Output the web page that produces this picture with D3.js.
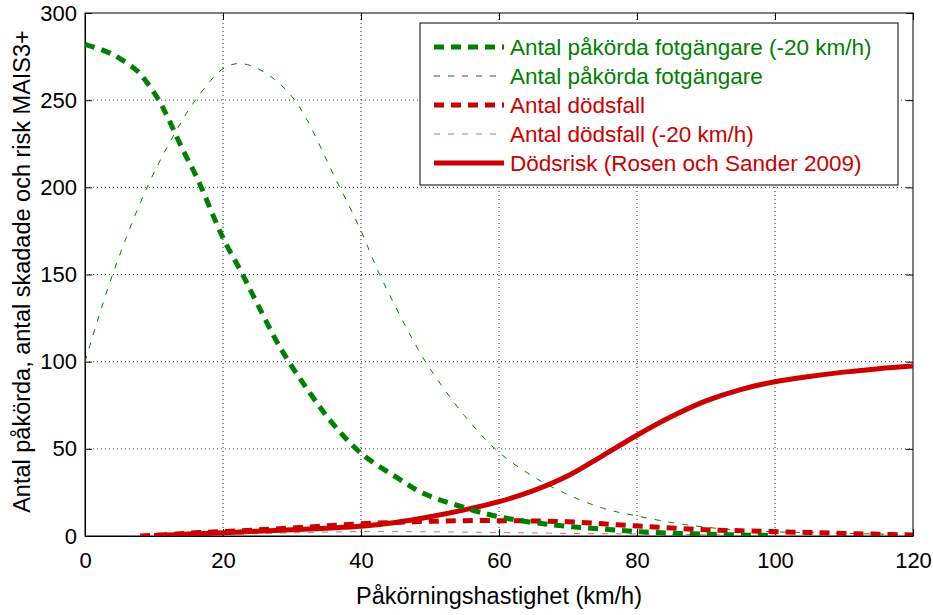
<!DOCTYPE html>
<html>
<head>
<meta charset="utf-8">
<script src="https://cdn.jsdelivr.net/npm/d3@7"></script>
<style>
  body { margin: 0; background: #fff; }
  svg text { font-family: "Liberation Sans", Arial, sans-serif; }
</style>
</head>
<body>
<svg id="chart"></svg>
<script>
// data
const xTicks = [0, 20, 40, 60, 80, 100, 120];
const yTicks = [0, 50, 100, 150, 200, 250, 300];

const speedFot20 = [0, 3, 5, 7.5, 9, 10.7, 12, 14, 16.4, 20, 22.7, 25, 28.3, 32.6, 36, 40, 45, 49, 54, 60, 68, 75, 81, 90, 100];
const valueFot20 = [282, 278, 274, 267, 260, 250, 240, 223, 204, 171, 151, 133, 108, 82, 64, 47.5, 34, 24.5, 17.5, 11, 6.3, 4, 2.3, 1, 0.3];

const speedFot = [0, 4, 9, 13.3, 16, 20, 22.5, 26, 30.4, 36.3, 40, 42.7, 48, 50, 55, 60, 65, 69, 75, 80, 87, 96, 106, 120];
const valueFot = [100, 150, 200, 233, 250, 268, 271, 266, 250, 205, 175, 150, 109, 96, 69, 48, 34, 25.5, 16, 11.5, 6.5, 3, 1.9, 0.7];

const speedDod = [8, 12, 16, 20, 25, 30, 35, 40, 45, 50, 55, 60, 65, 70, 75, 80, 85, 90, 95, 100, 105, 110, 115, 120];
const valueDod = [0, 0.8, 1.8, 2.5, 3.5, 4.6, 5.8, 7, 7.8, 8.4, 8.8, 8.8, 8.6, 8.2, 7, 5.7, 4.6, 3.6, 3, 2.5, 2, 1.5, 1, 0.6];

const speedDod20 = [10, 20, 30, 40, 50, 60, 70, 80, 90, 100, 110, 120];
const valueDod20 = [0.2, 0.9, 1.8, 2.5, 2.4, 2, 1.5, 1.1, 0.7, 0.4, 0.2, 0.1];

const speedRisk = [10, 15, 20, 25, 30, 35, 40, 45, 50, 55, 60, 65, 70, 75, 80, 85, 90, 95, 100, 105, 110, 115, 120];
const valueRisk = [0.3, 1.1, 1.9, 2.7, 3.6, 4.5, 5.6, 7.8, 11, 15, 19.7, 26, 34.5, 46, 57.8, 68.5, 77.5, 84, 88.5, 91.5, 94, 96, 97.5];

const green = "#008000", red = "#cc0000";

const series = [
  { name: "Antal påkörda fotgängare (-20 km/h)", x: speedFot20, y: valueFot20, color: green, width: 5, dash: "10,7" },
  { name: "Antal påkörda fotgängare", x: speedFot, y: valueFot, color: green, width: 1, dash: "6,8" },
  { name: "Antal dödsfall", x: speedDod, y: valueDod, color: red, width: 5, dash: "10,7" },
  { name: "Antal dödsfall (-20 km/h)", x: speedDod20, y: valueDod20, color: "#e06666", width: 1, dash: "6,8" },
  { name: "Dödsrisk (Rosen och Sander 2009)", x: speedRisk, y: valueRisk, color: red, width: 5, dash: null }
];

const wtot = 933, htot = 615;
const margin = { top: 13, right: 20, bottom: 79, left: 85 };

const xScale = d3.scaleLinear([0, 120], [margin.left, wtot - margin.right]);
const yScale = d3.scaleLinear([0, 300], [htot - margin.bottom, margin.top]);

const svg = d3.select("#chart")
  .attr("width", wtot)
  .attr("height", htot);

// grid
svg.append("g")
  .selectAll("line")
  .data(xTicks.slice(1, -1))
  .join("line")
  .attr("x1", d => xScale(d)).attr("x2", d => xScale(d))
  .attr("y1", yScale(0)).attr("y2", yScale(300))
  .attr("stroke", "#222").attr("stroke-dasharray", "1,3");

svg.append("g")
  .selectAll("line")
  .data(yTicks.slice(1, -1))
  .join("line")
  .attr("y1", d => yScale(d)).attr("y2", d => yScale(d))
  .attr("x1", xScale(0)).attr("x2", xScale(120))
  .attr("stroke", "#444").attr("stroke-dasharray", "1,3");

// axes (ticks inside, MATLAB style)
svg.append("g")
  .attr("transform", `translate(0,${yScale(0)})`)
  .call(d3.axisBottom(xScale).tickValues(xTicks).tickSizeInner(-7).tickSizeOuter(0).tickPadding(16))
  .call(g => g.selectAll("text").attr("font-size", 22).attr("fill", "#000"));

svg.append("g")
  .attr("transform", `translate(${xScale(0)},0)`)
  .call(d3.axisLeft(yScale).tickValues(yTicks).tickSizeInner(-7).tickSizeOuter(0).tickPadding(8))
  .call(g => g.selectAll("text").attr("font-size", 22).attr("fill", "#000"));

// top/right ticks
svg.append("g")
  .attr("transform", `translate(0,${yScale(300)})`)
  .call(d3.axisTop(xScale).tickValues(xTicks).tickSizeInner(-7).tickSizeOuter(0).tickFormat(""))
  .call(g => g.select(".domain").remove());
svg.append("g")
  .attr("transform", `translate(${xScale(120)},0)`)
  .call(d3.axisRight(yScale).tickValues(yTicks).tickSizeInner(-7).tickSizeOuter(0).tickFormat(""))
  .call(g => g.select(".domain").remove());

svg.append("rect")
  .attr("x", xScale(0)).attr("y", yScale(300))
  .attr("width", xScale(120) - xScale(0)).attr("height", yScale(0) - yScale(300))
  .attr("fill", "none").attr("stroke", "#000");

// axis titles
svg.append("text")
  .attr("x", (xScale(0) + xScale(120)) / 2)
  .attr("y", 604)
  .attr("text-anchor", "middle")
  .attr("font-size", 23.5)
  .text("Påkörningshastighet (km/h)");

svg.append("text")
  .attr("transform", `translate(30,${(yScale(0) + yScale(300)) / 2 - 3}) rotate(-90)`)
  .attr("text-anchor", "middle")
  .attr("font-size", 23.5)
  .text("Antal påkörda, antal skadade och risk MAIS3+");

// lines
svg.append("clipPath").attr("id", "plot-clip")
  .append("rect")
  .attr("x", xScale(0)).attr("y", yScale(300))
  .attr("width", xScale(120) - xScale(0)).attr("height", yScale(0) - yScale(300));

const line = d3.line()
  .curve(d3.curveCatmullRom.alpha(0.5))
  .x(d => xScale(d[0]))
  .y(d => yScale(d[1]));

// draw order so the thick green ends on top as in the reference
svg.append("g")
  .attr("clip-path", "url(#plot-clip)")
  .attr("fill", "none")
  .selectAll("path")
  .data([series[3], series[1], series[4], series[2], series[0]])
  .join("path")
  .attr("stroke", d => d.color)
  .attr("stroke-width", d => d.width)
  .attr("stroke-dasharray", d => d.dash)
  .attr("d", d => line(d.x.map((v, i) => [v, d.y[i]])));

// legend
const lg = svg.append("g").attr("transform", "translate(420,23)");
lg.append("rect")
  .attr("width", 478).attr("height", 162)
  .attr("fill", "#fff").attr("stroke", "#000");

const row = lg.selectAll("g.row")
  .data(series)
  .join("g")
  .attr("class", "row")
  .attr("transform", (d, i) => `translate(0,${24 + i * 29})`);

row.append("line")
  .attr("x1", 14).attr("x2", 84)
  .attr("stroke", d => d.color)
  .attr("stroke-width", d => d.width)
  .attr("stroke-dasharray", d => d.dash);

row.append("text")
  .attr("x", 90).attr("y", 8)
  .attr("font-size", 22.5)
  .attr("fill", d => d.color === "#e06666" ? red : d.color)
  .text(d => d.name);
</script>
</body>
</html>
